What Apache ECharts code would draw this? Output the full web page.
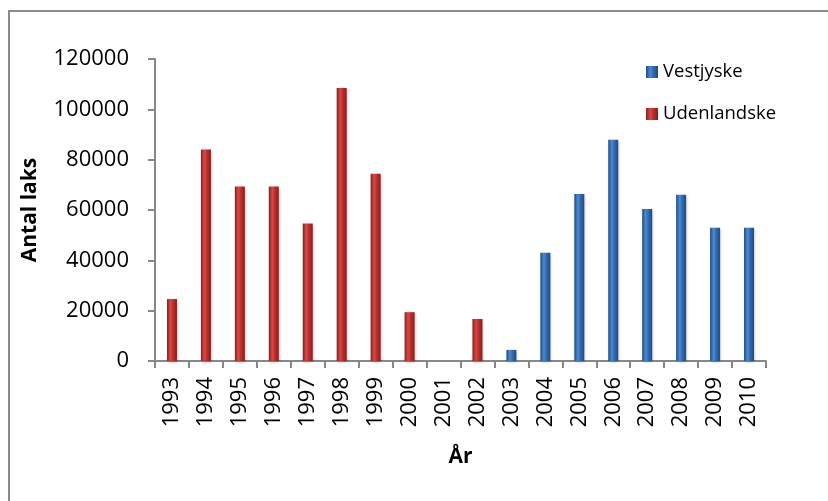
<!DOCTYPE html>
<html>
<head>
<meta charset="utf-8">
<script src="https://cdn.jsdelivr.net/npm/echarts@6/dist/echarts.min.js"></script>
<style>
html,body{margin:0;padding:0;background:#fff;}
#c{width:828px;height:501px;}
</style>
</head>
<body>
<div id="c"></div>
<script>
const years = ['1993','1994','1995','1996','1997','1998','1999','2000','2001','2002','2003','2004','2005','2006','2007','2008','2009','2010'];
const vestjyske = [null,null,null,null,null,null,null,null,null,null,4400,43000,66400,87900,60400,66100,52900,52900];
const udenlandske = [24600,84000,69300,69300,54600,108500,74400,19400,null,16700,null,null,null,null,null,null,null,null];
const yTicks = { min: 0, max: 120000, interval: 20000 };

const FONT = 'Open Sans';
const axisGray = '#878787';

function cyl(dark, mid, light) {
  return new echarts.graphic.LinearGradient(0, 0, 1, 0, [
    { offset: 0, color: dark },
    { offset: 0.35, color: light },
    { offset: 0.6, color: mid },
    { offset: 1, color: dark }
  ]);
}

const chart = echarts.init(document.getElementById('c'), null, { renderer: 'canvas' });
chart.setOption({
  animation: false,
  backgroundColor: '#ffffff',
  textStyle: { fontFamily: FONT },
  graphic: [{
    type: 'rect',
    shape: { x: 9, y: 11, width: 900, height: 600 },
    style: { fill: 'none', stroke: '#8a8a8a', lineWidth: 2 },
    silent: true,
    z: -1
  }],
  grid: { left: 155, right: 62, top: 59, bottom: 140, containLabel: false },
  legend: {
    orient: 'vertical',
    left: 646,
    top: 61,
    padding: 0,
    itemWidth: 12,
    itemHeight: 12,
    itemGap: 20,
    icon: 'rect',
    data: ['Vestjyske', 'Udenlandske'],
    textStyle: { fontFamily: FONT, fontSize: 18.5, color: '#000', lineHeight: 22, padding: [0, 0, 0, 0] }
  },
  xAxis: {
    type: 'category',
    data: years,
    boundaryGap: true,
    name: 'År',
    nameLocation: 'middle',
    nameGap: 86,
    nameTextStyle: { fontFamily: FONT, fontSize: 21, fontWeight: 'bold', color: '#000' },
    axisLine: { show: true, lineStyle: { color: axisGray, width: 2 } },
    axisTick: { show: true, alignWithLabel: false, length: 7, lineStyle: { color: axisGray, width: 2 } },
    axisLabel: { rotate: 90, margin: 16, fontFamily: FONT, fontSize: 22, color: '#000', interval: 0 },
    splitLine: { show: false }
  },
  yAxis: {
    type: 'value',
    min: yTicks.min,
    max: yTicks.max,
    interval: yTicks.interval,
    name: 'Antal laks',
    nameLocation: 'middle',
    nameGap: 114,
    nameRotate: 90,
    nameTextStyle: { fontFamily: FONT, fontSize: 21, fontWeight: 'bold', color: '#000' },
    axisLine: { show: true, lineStyle: { color: axisGray, width: 2 } },
    axisTick: { show: true, length: 7, lineStyle: { color: axisGray, width: 2 } },
    axisLabel: { margin: 26, fontFamily: FONT, fontSize: 22, color: '#000', formatter: v => String(v) },
    splitLine: { show: false }
  },
  series: [
    {
      name: 'Vestjyske',
      type: 'bar',
      data: vestjyske,
      barWidth: 10,
      barGap: '-100%',
      itemStyle: {
        color: cyl('#1d4a85', '#2f6cb3', '#4d8ad0'),
        shadowColor: 'rgba(0,0,0,0.25)', shadowBlur: 3, shadowOffsetX: 1, shadowOffsetY: 1
      }
    },
    {
      name: 'Udenlandske',
      type: 'bar',
      data: udenlandske,
      barWidth: 10,
      barGap: '-100%',
      itemStyle: {
        color: cyl('#8a1d1b', '#bd2f2c', '#d84a45'),
        shadowColor: 'rgba(0,0,0,0.25)', shadowBlur: 3, shadowOffsetX: 1, shadowOffsetY: 1
      }
    }
  ]
});
</script>
</body>
</html>
